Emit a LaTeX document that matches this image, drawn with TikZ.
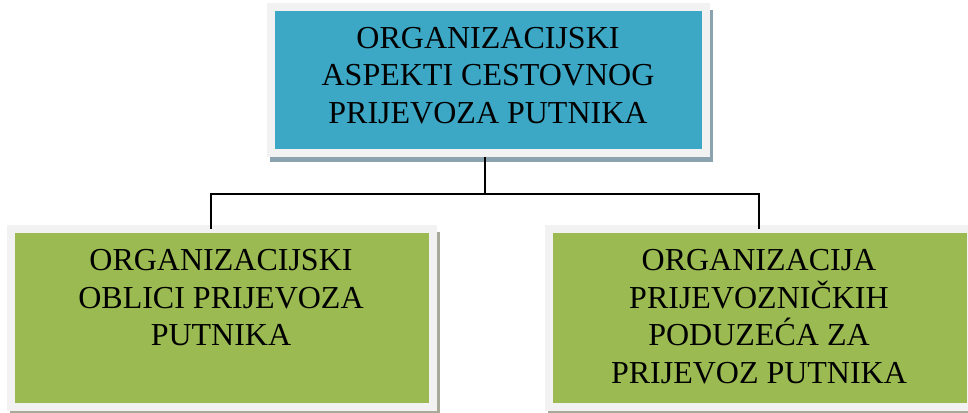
\documentclass[tikz,border=0pt]{standalone}
\usepackage{fontspec}
\setmainfont{Liberation Serif}
\usetikzlibrary{backgrounds}
\definecolor{topblue}{HTML}{3DA8C6}
\definecolor{boxgreen}{HTML}{9BBB52}
\definecolor{framegray}{HTML}{F2F2F2}
\definecolor{blueshadow}{HTML}{8AA3AF}
\definecolor{greenshadow}{HTML}{A7AA98}
\begin{document}
\begin{tikzpicture}[x=1pt,y=-1pt,
  boxnode/.style={draw=framegray, line width=8pt, minimum width=#1, inner sep=0pt},
  txt/.style={inner sep=0pt, align=center, font=\fontsize{32pt}{37.5pt}\selectfont},
  conn/.style={draw=black, line width=1.6pt}]
\useasboundingbox (0,0) rectangle (968,412);
\clip (0,0) rectangle (968,412);
% boxes (frame midlines)
\node[boxnode=434.5pt, fill=topblue, minimum height=145pt] (top) at (488.25,80) {};
\node[boxnode=422pt, fill=boxgreen, minimum height=178pt] (left) at (222,317.5) {};
\node[boxnode=422pt, fill=boxgreen, minimum height=178pt] (right) at (760,317.5) {};
% shadows
\begin{scope}[on background layer]
  \fill[blueshadow] ([shift={(3,7)}]top.north west) rectangle ([shift={(3.5,5.5)}]top.south east);
  \fill[greenshadow] ([shift={(3,7)}]left.north west) rectangle ([shift={(3,2.5)}]left.south east);
  \fill[greenshadow] ([shift={(3,7)}]right.north west) rectangle ([shift={(3,2.5)}]right.south east);
\end{scope}
% texts
\node[txt, anchor=north] (toptext) at (488,27) {ORGANIZACIJSKI\\ASPEKTI CESTOVNOG\\PRIJEVOZA PUTNIKA};
\node[txt, anchor=north] (lefttext) at (221,249.5) {ORGANIZACIJSKI\\OBLICI PRIJEVOZA\\PUTNIKA};
\node[txt, anchor=north] (righttext) at (759,249.5) {ORGANIZACIJA\\PRIJEVOZNIČKIH\\PODUZEĆA ZA\\PRIJEVOZ PUTNIKA};
% connectors
\coordinate (junction) at ([xshift=-3.25]top.south |- 0,194);
\draw[conn] ([xshift=-3.25]top.south) -- (junction);
\draw[conn] (junction) -| ([shift={(-11,4.5)}]left.north);
\draw[conn] (junction) -| ([shift={(-1,4.5)}]right.north);
\end{tikzpicture}
\end{document}
